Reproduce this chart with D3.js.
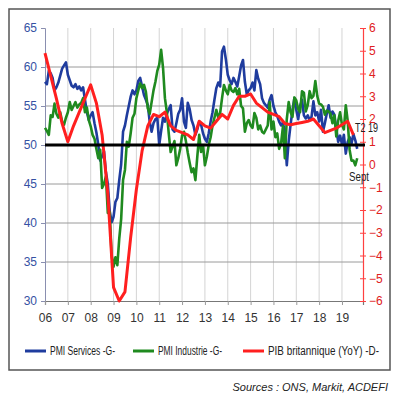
<!DOCTYPE html>
<html>
<head>
<meta charset="utf-8">
<script src="https://cdn.jsdelivr.net/npm/d3@7"></script>
<style>
  body { margin: 0; background: #fff; }
  svg { display: block; }
</style>
</head>
<body>
<div id="chart"></div>
<script>
// monthly PMI, Jan 2006 -> Sept 2019
var pmiServices = [
  58.1,57.8,59.5,59.2,58.6,57.0,57.4,58.0,58.9,59.8,60.2,60.6, // 06
  59.0,58.3,57.6,57.4,57.8,57.2,57.5,57.0,57.4,55.8,54.2,53.2, // 07
  53.8,54.2,52.8,51.6,50.0,48.0,48.6,49.2,46.5,45.0,41.5,40.1, // 08
  40.8,42.7,43.2,45.5,47.5,51.7,52.5,53.8,55.0,56.2,57.0,56.5, // 09
  57.0,58.2,58.6,57.5,56.4,55.8,55.1,53.0,51.7,52.8,53.3,53.5, // 10
  50.0,51.8,53.5,53.0,54.0,54.6,55.1,52.0,51.7,52.8,54.0,54.5, // 11
  56.0,53.0,52.2,55.4,54.6,53.2,52.5,51.3,52.0,53.0,52.6,51.5, // 12
  50.8,50.4,51.5,53.0,54.2,55.8,57.3,58.0,57.5,62.0,62.6,61.0, // 13
  59.0,58.3,57.8,58.6,58.1,57.5,58.8,60.2,60.9,58.1,56.5,57.0, // 14
  57.3,58.0,57.0,59.6,58.5,57.8,56.0,55.4,55.1,54.8,55.8,56.4, // 15
  55.0,54.2,53.7,53.0,52.5,52.9,51.5,47.4,50.5,52.6,54.5,56.0, // 16
  54.5,53.3,55.0,55.8,53.8,53.4,53.8,53.2,53.6,55.6,53.8,54.2, // 17
  53.0,54.5,51.7,52.8,54.0,55.1,53.5,54.3,53.9,52.2,50.4,51.2, // 18
  50.1,51.3,48.9,50.4,51.0,50.2,51.4,50.6,49.5                 // 19
];
var pmiIndustrie = [
  52.2,51.8,51.3,53.8,53.6,55.3,54.0,53.5,54.2,53.0,52.6,53.5, // 06
  54.2,55.5,54.5,55.0,55.5,54.8,55.2,55.4,56.0,54.2,54.8,53.2, // 07
  52.4,51.3,50.8,49.5,48.3,49.4,44.5,45.0,46.0,41.3,41.4,35.8, // 08
  34.4,35.6,34.6,38.0,40.5,45.5,46.8,50.4,49.8,51.5,53.5,54.0, // 09
  56.0,57.0,57.9,57.3,57.7,56.8,54.7,54.0,55.5,57.0,58.1,59.5, // 10
  60.3,62.2,59.9,56.0,54.2,51.5,49.1,49.8,50.5,47.4,48.3,49.5, // 11
  51.2,51.7,50.5,49.0,47.7,46.5,47.0,45.5,48.5,51.3,49.1,50.0, // 12
  47.4,48.5,50.0,51.0,52.5,53.5,54.5,53.5,54.1,56.0,57.7,57.0, // 13
  56.5,57.7,57.0,56.8,57.3,56.5,57.2,55.0,54.7,51.7,52.8,53.2, // 14
  52.5,52.2,54.1,53.5,52.0,52.5,51.7,51.5,52.0,52.5,55.5,52.0, // 15
  53.0,51.0,51.5,49.5,50.2,52.4,48.3,53.3,55.5,54.2,53.6,56.1, // 16
  55.7,54.6,54.2,56.9,56.7,54.3,55.1,56.9,56.0,56.3,58.2,56.3, // 17
  55.3,55.2,54.9,53.9,54.4,54.3,54.0,52.8,53.8,51.1,53.1,54.2, // 18
  52.6,52.0,55.1,53.1,49.4,48.0,48.0,47.4,48.3                 // 19
];
// quarterly UK GDP YoY %, Q1 2006 -> Q2 2019
var pibYoY = [
  4.9,3.9,2.9,1.8,
  1.0,1.7,2.3,2.9,
  3.5,2.7,1.3,-1.3,
  -5.4,-6.0,-5.6,-3.2,
  -1.1,0.6,1.7,2.2,
  2.1,2.3,1.7,1.5,
  1.4,1.3,1.1,1.9,
  1.7,1.6,1.9,2.2,
  2.0,2.6,3.0,3.0,
  3.1,2.7,2.5,2.3,
  2.2,2.1,1.8,1.75,
  1.8,1.85,1.9,2.0,
  1.7,1.4,1.5,1.6,
  1.75,1.9,1.3
];
var years = d3.range(2006, 2020);
var leftTicks = [30, 35, 40, 45, 50, 55, 60, 65];
var rightTicks = d3.range(-6, 7);
var legendItems = [
  { label: "PMI Services -G-", color: "#1f3c9e" },
  { label: "PMI Industrie -G-", color: "#1f8a1f" },
  { label: "PIB britannique (YoY) -D-", color: "#ff1f1f" }
];

var W = 398, H = 404;
var plotL = 45, plotR = 363, plotT = 28, plotB = 301;
var font = "'Liberation Sans', Arial, sans-serif";

var svg = d3.select("#chart").append("svg")
  .attr("width", W)
  .attr("height", H);

// outer frame
svg.append("rect")
  .attr("x", 9).attr("y", 9)
  .attr("width", 381).attr("height", 361)
  .attr("fill", "none")
  .attr("stroke", "#555")
  .attr("stroke-width", 1.5);

var x = d3.scaleLinear().domain([2006, 2019.92]).range([plotL, plotR]);
var yL = d3.scaleLinear().domain([30, 65]).range([plotB, plotT]);
var yR = d3.scaleLinear().domain([-6, 6]).range([plotB, plotT]);

// vertical gridlines
svg.selectAll(".vgrid")
  .data(years.slice(1))
  .enter().append("line")
  .attr("class", "vgrid")
  .attr("x1", function(d) { return x(d); })
  .attr("x2", function(d) { return x(d); })
  .attr("y1", plotT).attr("y2", plotB)
  .attr("stroke", "#d4d4d4")
  .attr("stroke-width", 1);

// horizontal gridlines
svg.selectAll(".hgrid")
  .data([35, 40, 45, 55, 60])
  .enter().append("line")
  .attr("class", "hgrid")
  .attr("x1", plotL).attr("x2", plotR)
  .attr("y1", function(d) { return yL(d); })
  .attr("y2", function(d) { return yL(d); })
  .attr("stroke", "#9a9a9a")
  .attr("stroke-width", 1);

// left axis
var gLeft = svg.append("g")
  .attr("transform", "translate(" + plotL + ",0)")
  .call(d3.axisLeft(yL).tickValues(leftTicks).tickSize(4).tickPadding(4));
gLeft.select(".domain").attr("stroke", "#8a8fb0");
gLeft.selectAll(".tick line").attr("stroke", "#8a8fb0");
gLeft.selectAll("text")
  .attr("fill", "#3551a3")
  .style("font-family", font)
  .style("font-size", "12px");

// bottom axis
var gBottom = svg.append("g")
  .attr("transform", "translate(0," + plotB + ")")
  .call(d3.axisBottom(x).tickValues(years).tickSize(4).tickPadding(8)
    .tickFormat(function(d) { return String(d).slice(2); }));
gBottom.select(".domain").attr("stroke", "#777").attr("stroke-width", 1.2);
gBottom.selectAll(".tick line").attr("stroke", "#999");
gBottom.selectAll("text")
  .attr("fill", "#333")
  .style("font-family", font)
  .style("font-size", "12px");

// right axis (red)
var gRight = svg.append("g")
  .attr("transform", "translate(" + plotR + ",0)")
  .call(d3.axisRight(yR).tickValues(rightTicks).tickSize(3).tickPadding(3));
gRight.select(".domain").attr("stroke", "#ff4040").attr("stroke-width", 1.2);
gRight.selectAll(".tick line")
  .attr("x1", -3)
  .attr("stroke", "#ff4040");
gRight.selectAll("text")
  .attr("fill", "#e02020")
  .style("font-family", font)
  .style("font-size", "12px");

// series lines
var lineL = d3.line()
  .x(function(d, i) { return x(2006 + i / 12); })
  .y(function(d) { return yL(d); });
var lineR = d3.line()
  .x(function(d, i) { return x(2006 + i / 4); })
  .y(function(d) { return yR(d); });

svg.append("path")
  .datum(pmiServices)
  .attr("d", lineL)
  .attr("fill", "none")
  .attr("stroke", legendItems[0].color)
  .attr("stroke-width", 2.6)
  .attr("stroke-linejoin", "round");

svg.append("path")
  .datum(pmiIndustrie)
  .attr("d", lineL)
  .attr("fill", "none")
  .attr("stroke", legendItems[1].color)
  .attr("stroke-width", 2.6)
  .attr("stroke-linejoin", "round");

svg.append("path")
  .datum(pibYoY)
  .attr("d", lineR)
  .attr("fill", "none")
  .attr("stroke", legendItems[2].color)
  .attr("stroke-width", 3)
  .attr("stroke-linejoin", "round");

// 50 line
svg.append("line")
  .attr("x1", plotL).attr("x2", plotR + 2)
  .attr("y1", yL(50)).attr("y2", yL(50))
  .attr("stroke", "#000")
  .attr("stroke-width", 3);

// annotations
svg.append("text")
  .attr("x", 355).attr("y", 132)
  .attr("fill", "#222")
  .attr("textLength", 23).attr("lengthAdjust", "spacingAndGlyphs")
  .style("font-family", font)
  .style("font-size", "12px")
  .text("T2 19");
svg.append("text")
  .attr("x", 349).attr("y", 181)
  .attr("fill", "#222")
  .attr("textLength", 20).attr("lengthAdjust", "spacingAndGlyphs")
  .style("font-family", font)
  .style("font-size", "12px")
  .text("Sept");

// legend
var legendX = [25, 133, 243];
var legendW = [65, 64, 111];
var leg = svg.selectAll(".leg")
  .data(legendItems)
  .enter().append("g")
  .attr("class", "leg")
  .attr("transform", function(d, i) { return "translate(" + legendX[i] + ",351)"; });
leg.append("line")
  .attr("x1", 0).attr("x2", 21)
  .attr("stroke", function(d) { return d.color; })
  .attr("stroke-width", 3);
leg.append("text")
  .attr("x", 25).attr("y", 4)
  .attr("fill", "#222")
  .attr("textLength", function(d, i) { return legendW[i]; })
  .attr("lengthAdjust", "spacingAndGlyphs")
  .style("font-family", font)
  .style("font-size", "12px")
  .text(function(d) { return d.label; });

// source
svg.append("text")
  .attr("x", 388).attr("y", 391)
  .attr("text-anchor", "end")
  .attr("fill", "#222")
  .style("font-family", font)
  .style("font-style", "italic")
  .style("font-size", "11px")
  .text("Sources : ONS, Markit, ACDEFI");
</script>
</body>
</html>
